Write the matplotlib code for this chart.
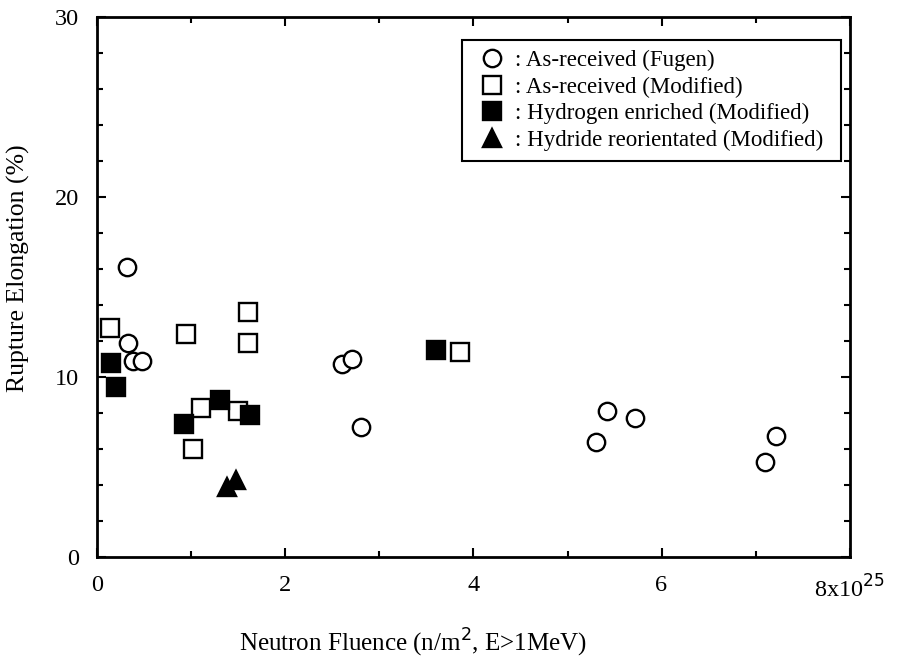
import matplotlib.pyplot as plt
from matplotlib.ticker import MultipleLocator

plt.rcParams['font.family'] = ['Liberation Serif', 'DejaVu Serif']

# Daten (Neutronenfluenz in 1e25 n/m^2, Bruchdehnung in %)
fugen_x = [0.32, 0.33, 0.38, 0.48, 2.6, 2.71, 2.8, 5.3, 5.42, 5.72, 7.1, 7.22]
fugen_y = [16.1, 11.9, 10.9, 10.9, 10.7, 11.0, 7.2, 6.4, 8.1, 7.7, 5.3, 6.7]

mod_x = [0.13, 0.94, 1.6, 1.6, 1.1, 1.02, 1.5, 3.86]
mod_y = [12.7, 12.4, 13.6, 11.9, 8.3, 6.0, 8.1, 11.4]

h2_x = [0.15, 0.2, 0.92, 1.3, 1.62, 3.6]
h2_y = [10.8, 9.45, 7.4, 8.7, 7.9, 11.5]

reo_x = [1.38, 1.48]
reo_y = [3.9, 4.3]

xticks = [0, 2, 4, 6, 8]
xticklabels = ['0', '2', '4', '6', r'8x10$^{25}$']
yticks = [0, 10, 20, 30]

fig = plt.figure(figsize=(9.01, 6.58), dpi=100)
ax = fig.add_axes([0.108, 0.1535, 0.835, 0.8205])

ms = 12.5
mew = 1.7
ax.plot(fugen_x, fugen_y, 'o', ms=ms, mfc='white', mec='black', mew=mew,
        label=': As-received (Fugen)', clip_on=False)
ax.plot(mod_x, mod_y, 's', ms=ms, mfc='white', mec='black', mew=mew,
        label=': As-received (Modified)', clip_on=False)
ax.plot(h2_x, h2_y, 's', ms=ms, mfc='black', mec='black', mew=mew,
        label=': Hydrogen enriched (Modified)', clip_on=False)
ax.plot(reo_x, reo_y, '^', ms=ms + 1, mfc='black', mec='black', mew=mew,
        label=': Hydride reorientated (Modified)', clip_on=False)

ax.set_xlim(0, 8)
ax.set_ylim(0, 30)
ax.set_xticks(xticks)
ax.set_xticklabels(xticklabels)
ax.set_yticks(yticks)
ax.xaxis.set_minor_locator(MultipleLocator(1))
ax.yaxis.set_minor_locator(MultipleLocator(2))
ax.tick_params(which='both', direction='in', top=True, right=True,
               labelsize=17.5, width=1.5)
ax.tick_params(which='major', length=6.5)
ax.tick_params(which='minor', length=4)
ax.tick_params(axis='x', pad=13)
ax.tick_params(axis='y', pad=13)
for s in ax.spines.values():
    s.set_linewidth(2)

ax.set_xlabel(r'Neutron Fluence (n/m$^2$, E>1MeV)', fontsize=18)
ax.set_ylabel('Rupture Elongation (%)', fontsize=18.5)
ax.xaxis.set_label_coords(0.42, -0.13)
ax.yaxis.set_label_coords(-0.09, 0.535)

# Legende ueber feste Box, horizontal gestreckt
leg = ax.legend(loc='upper left', bbox_to_anchor=(0.485, 0.735, 0.503, 0.222),
                mode='expand', borderaxespad=0, fancybox=False,
                edgecolor='black', fontsize=16.5, numpoints=1,
                handlelength=1.8, handletextpad=0.1,
                labelspacing=0.25, borderpad=0.4, framealpha=1)
leg.get_frame().set_linewidth(1.5)

plt.savefig('out.png', dpi=100)
